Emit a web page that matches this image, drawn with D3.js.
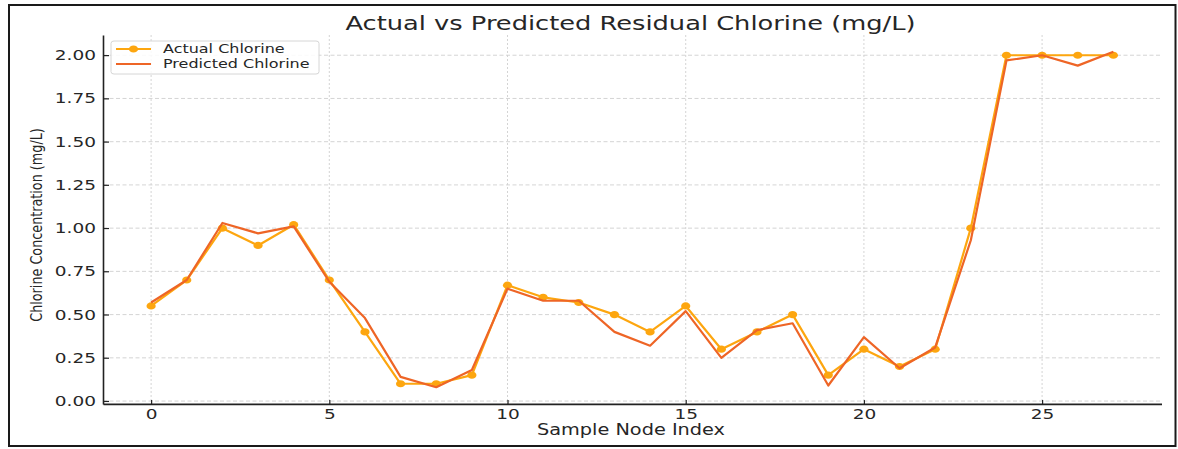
<!DOCTYPE html>
<html>
<head>
<meta charset="utf-8">
<script src="https://cdn.jsdelivr.net/npm/d3@7"></script>
<style>
  html, body { margin: 0; padding: 0; background: #ffffff; }
  svg { display: block; }
  text { font-family: "DejaVu Sans", sans-serif; }
</style>
</head>
<body>
<svg id="chart" width="1178" height="449"></svg>
<script>
// ---------- data ----------
const nodeIndex = [0,1,2,3,4,5,6,7,8,9,10,11,12,13,14,15,16,17,18,19,20,21,22,23,24,25,26,27];
const actualChlorine = [0.55,0.70,1.00,0.90,1.02,0.70,0.40,0.10,0.10,0.15,0.67,0.60,0.57,0.50,0.40,0.55,0.30,0.40,0.50,0.15,0.30,0.20,0.30,1.00,2.00,2.00,2.00,2.00];
const predictedChlorine = [0.57,0.70,1.03,0.97,1.01,0.69,0.48,0.14,0.08,0.18,0.65,0.58,0.58,0.40,0.32,0.52,0.25,0.41,0.45,0.09,0.37,0.19,0.31,0.93,1.97,2.00,1.94,2.02];
const xTickValues = [0,5,10,15,20,25];
const yTickValues = [0,0.25,0.5,0.75,1.0,1.25,1.5,1.75,2.0];
const titleText = "Actual vs Predicted Residual Chlorine (mg/L)";
const xLabel = "Sample Node Index";
const yLabel = "Chlorine Concentration (mg/L)";
const seriesNames = ["Actual Chlorine", "Predicted Chlorine"];

// ---------- layout ----------
const K = 0.78;               // vertical squash of the whole figure
const Y = v => v / K;         // reference pixel -> inner coordinate
const W = 1178, H = 449;
const plot = { left: 103, right: 1161.5, top: 35, bottom: 404 };
const colActual = "#FDA60F";
const colPred = "#EE6526";

const svg = d3.select("#chart");

// outer frame (unsquashed)
svg.append("rect")
  .attr("x", 9).attr("y", 5).attr("width", 1166.5).attr("height", 441)
  .attr("fill", "#fff").attr("stroke", "#1a1a1a").attr("stroke-width", 2);

const g = svg.append("g").attr("transform", `scale(1,${K})`);

const x = d3.scaleLinear().domain([-1.35, 28.35]).range([plot.left, plot.right]);
const y = d3.scaleLinear().domain([-0.017, 2.117]).range([Y(plot.bottom), Y(plot.top)]);

// grid
const grid = g.append("g");
grid.selectAll("line.h").data(yTickValues).join("line")
  .attr("x1", plot.left).attr("x2", plot.right)
  .attr("y1", d => y(d)).attr("y2", d => y(d))
  .attr("stroke", "#cfcfcf").attr("stroke-width", 0.9)
  .attr("stroke-dasharray", "4,2.5")
  .attr("vector-effect", "non-scaling-stroke");
grid.selectAll("line.v").data(xTickValues).join("line")
  .attr("x1", d => x(d)).attr("x2", d => x(d))
  .attr("y1", Y(plot.top)).attr("y2", Y(plot.bottom))
  .attr("stroke", "#cfcfcf").attr("stroke-width", 0.9)
  .attr("stroke-dasharray", "2,2")
  .attr("vector-effect", "non-scaling-stroke");

// axes
const yAxis = d3.axisLeft(y).tickValues(yTickValues).tickFormat(d3.format(".2f"))
  .tickSizeInner(-6).tickSizeOuter(0).tickPadding(7);
const xAxis = d3.axisBottom(x).tickValues(xTickValues).tickFormat(d3.format("d"))
  .tickSizeInner(-5).tickSizeOuter(0).tickPadding(6);

const gy = g.append("g").attr("transform", `translate(${plot.left},0)`).call(yAxis);
const gx = g.append("g").attr("transform", `translate(0,${Y(plot.bottom)})`).call(xAxis);
[gx, gy].forEach(a => {
  a.select(".domain").attr("stroke", "#222").attr("stroke-width", 1.6)
    .attr("vector-effect", "non-scaling-stroke");
  a.selectAll(".tick line").attr("stroke", "#222").attr("stroke-width", 1.2)
    .attr("vector-effect", "non-scaling-stroke");
  a.selectAll(".tick text").attr("fill", "#262626")
    .style("font-family", "DejaVu Sans").style("font-size", "18.5px");
});

// lines
const lineA = d3.line().x((d, i) => x(nodeIndex[i])).y(d => y(d));
g.append("path").datum(actualChlorine)
  .attr("d", lineA).attr("fill", "none")
  .attr("stroke", colActual).attr("stroke-width", 2.2)
  .attr("stroke-linejoin", "round")
  .attr("vector-effect", "non-scaling-stroke");
g.append("g").selectAll("circle").data(actualChlorine).join("circle")
  .attr("cx", (d, i) => x(nodeIndex[i])).attr("cy", d => y(d))
  .attr("r", 4.6).attr("fill", colActual);
g.append("path").datum(predictedChlorine)
  .attr("d", lineA).attr("fill", "none")
  .attr("stroke", colPred).attr("stroke-width", 2.2)
  .attr("stroke-linejoin", "round")
  .attr("vector-effect", "non-scaling-stroke");

// title
g.append("text").attr("x", 630.5).attr("y", Y(30))
  .attr("text-anchor", "middle").attr("fill", "#262626")
  .style("font-size", "25.7px").text(titleText);

// x label
g.append("text").attr("x", 631).attr("y", Y(435))
  .attr("text-anchor", "middle").attr("fill", "#262626")
  .style("font-size", "19.3px").text(xLabel);

// y label
g.append("text")
  .attr("transform", `translate(42,${Y(225)}) rotate(-90)`)
  .attr("text-anchor", "middle").attr("fill", "#262626")
  .style("font-size", "16.4px").text(yLabel);

// legend
const leg = g.append("g");
leg.append("rect")
  .attr("x", 111).attr("y", Y(41)).attr("width", 208).attr("height", Y(74) - Y(41))
  .attr("rx", 3).attr("fill", "#fff").attr("fill-opacity", 0.85)
  .attr("stroke", "#d6d6d6").attr("stroke-width", 1)
  .attr("vector-effect", "non-scaling-stroke");
const legY = [49, 64];
const legCols = [colActual, colPred];
seriesNames.forEach((name, i) => {
  leg.append("line").attr("x1", 116).attr("x2", 151)
    .attr("y1", Y(legY[i])).attr("y2", Y(legY[i]))
    .attr("stroke", legCols[i]).attr("stroke-width", 2.2)
    .attr("vector-effect", "non-scaling-stroke");
  if (i === 0) {
    leg.append("circle").attr("cx", 133.5).attr("cy", Y(legY[i])).attr("r", 4.6).attr("fill", legCols[i]);
  }
  leg.append("text").attr("x", 163).attr("y", Y(legY[i] + 4.3))
    .attr("fill", "#262626").style("font-size", "16px").text(name);
});
</script>
</body>
</html>
